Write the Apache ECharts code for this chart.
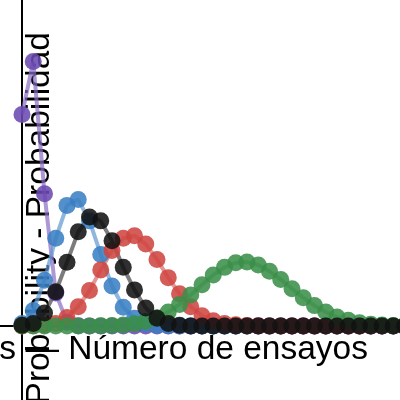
<!DOCTYPE html>
<html><head><meta charset="utf-8">
<script src="https://cdn.jsdelivr.net/npm/echarts@6/dist/echarts.min.js"></script>
<style>html,body{margin:0;padding:0;background:#fff}#c{width:400px;height:400px}</style>
</head><body><div id="c"></div>
<script>
// Number of successes (x values)
const trials = [0,1,2,3,4,5,6,7,8,9,10,11,12,13,14,15,16,17,18,19,20,21,22,23,24,25,26,27,28,29,30,31,32,33,34,35,36,37,38,39,40];
// Probability values
const purpleVals = [0.328,0.410,0.205,0.051,0.006,0.0003,0,0,0,0,0,0,0,0,0,0,0,0,0,0,0,0,0,0,0,0,0,0,0,0,0,0,0,0,0,0,0,0,0,0,0];
const blueVals = [0.004,0.024,0.071,0.136,0.187,0.196,0.163,0.111,0.062,0.029,0.012,0.004,0.001,0.0003,0,0,0,0,0,0,0,0,0,0,0,0,0,0,0,0,0,0,0,0,0,0,0,0,0,0,0];
const redVals = [0,0.0002,0.001,0.004,0.013,0.030,0.055,0.087,0.117,0.136,0.140,0.127,0.103,0.075,0.050,0.030,0.016,0.008,0.004,0.002,0.0006,0.0002,0,0,0,0,0,0,0,0,0,0,0,0,0,0,0,0,0,0,0];
const greenVals = [0,0,0,0,0,0,0,0.0002,0.0006,0.0015,0.0034,0.0069,0.0128,0.0216,0.0335,0.0481,0.0638,0.0789,0.0909,0.0981,0.0993,0.0946,0.0849,0.0720,0.0577,0.0439,0.0316,0.0217,0.0141,0.0088,0.0052,0.0029,0.0016,0.0008,0.0004,0.0002,0.0001,0,0,0,0];
const blackVals = [0.001,0.004,0.020,0.053,0.099,0.146,0.169,0.163,0.132,0.091,0.056,0.028,0.012,0.004,0.001,0,0,0,0,0,0,0,0,0,0,0,0,0,0,0,0,0,0,0,0,0,0,0,0,0,0];
const xName = 'Trials — Número de ensayos';
const yName = 'Probability - Probabilidad';

const chart = echarts.init(document.getElementById('c'));
function mk(vals, color, lineColor) {
  return {
    type: 'line',
    data: trials.map((t, i) => [t, vals[i]]),
    symbol: 'circle',
    symbolSize: 17,
    showAllSymbol: true,
    itemStyle: { color: color, opacity: 0.87 },
    lineStyle: { color: lineColor, width: 4, opacity: 0.7 },
    emphasis: { disabled: true }
  };
}
const font = '"Liberation Sans", Arial, sans-serif';
chart.setOption({
  animation: false,
  backgroundColor: '#fff',
  grid: { left: -0.5, top: -61, width: 472.5, height: 516, containLabel: false, outerBoundsMode: 'none' },
  xAxis: {
    type: 'value', min: -2, max: 40,
    axisLine: { onZero: true, lineStyle: { color: '#000', width: 2 } },
    axisTick: { show: false }, axisLabel: { show: false }, splitLine: { show: false },
    name: xName, nameLocation: 'end', nameGap: -104,
    nameTextStyle: { fontFamily: font, fontSize: 33.5, color: '#000', align: 'right', verticalAlign: 'top', padding: [7, 0, 0, 0] }
  },
  yAxis: {
    type: 'value', min: -0.2, max: 0.6,
    axisLine: { onZero: true, lineStyle: { color: '#000', width: 2 } },
    axisTick: { show: false }, axisLabel: { show: false }, splitLine: { show: false },
    name: yName, nameLocation: 'end', nameGap: -93, nameRotate: 90,
    nameTextStyle: { fontFamily: font, fontSize: 33.5, color: '#000', align: 'right', verticalAlign: 'top', padding: [1, 0, 0, 0] }
  },
  series: [
    mk(purpleVals, '#6a48b0', '#8a6cc4'),
    mk(blueVals, '#3a7ec2', '#5f98d0'),
    mk(redVals, '#cf4540', '#d96a66'),
    mk(greenVals, '#3a8f48', '#5aa366'),
    mk(blackVals, '#111111', '#444444')
  ]
});
</script></body></html>
